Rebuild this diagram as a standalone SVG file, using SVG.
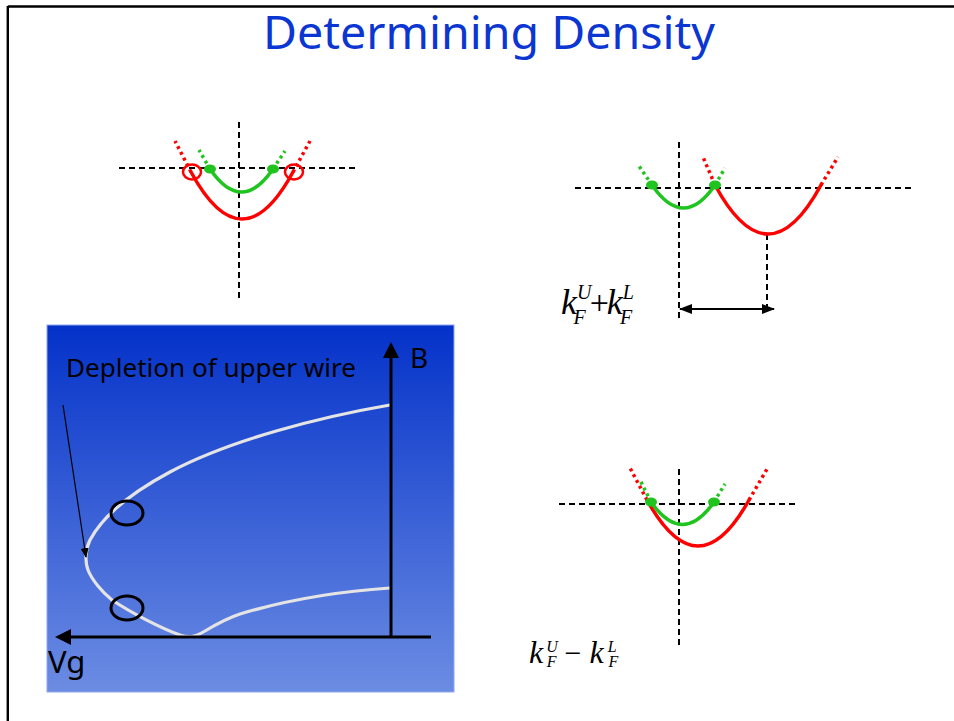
<svg xmlns="http://www.w3.org/2000/svg" width="954" height="721" viewBox="0 0 954 721">
<defs>
<linearGradient id="panelGrad" x1="0" y1="0" x2="0" y2="1">
<stop offset="0" stop-color="#0432c9"/>
<stop offset="1" stop-color="#6c8ce3"/>
</linearGradient>
<marker id="thinHead" markerWidth="10" markerHeight="8" refX="9" refY="4" orient="auto" markerUnits="userSpaceOnUse">
<path d="M0,0 L10,4 L0,8 Z" fill="#000"/>
</marker>
<marker id="dblEnd" markerWidth="13" markerHeight="10" refX="12" refY="5" orient="auto" markerUnits="userSpaceOnUse">
<path d="M0,0 L13,5 L0,10 Z" fill="#000"/>
</marker>
<marker id="dblStart" markerWidth="13" markerHeight="10" refX="1" refY="5" orient="auto" markerUnits="userSpaceOnUse">
<path d="M13,0 L0,5 L13,10 Z" fill="#000"/>
</marker>
</defs>
<style>
.frame{stroke:#000;stroke-width:2.4;fill:none}
.title{font-family:"Noto Sans","DejaVu Sans",sans-serif;font-size:46px;fill:#0b36d1}
.dash{stroke:#000;stroke-width:2;stroke-dasharray:6 4;fill:none}
.red{stroke:#ff0000;stroke-width:3.5;fill:none;stroke-linecap:round}
.redDot{stroke:#ff0000;stroke-width:3.5;stroke-dasharray:3 3.5;fill:none}
.grn{stroke:#1fc41f;stroke-width:3.5;fill:none;stroke-linecap:round}
.grnDot{stroke:#1fc41f;stroke-width:3.5;stroke-dasharray:3 3.5;fill:none}
.gdot{fill:#1fc41f}
.rcirc{stroke:#ff0000;stroke-width:2.5;fill:none}
.math{font-family:"Liberation Serif","Times New Roman",serif;font-style:italic;fill:#000}
.op{font-style:normal}
.lbl{font-family:"Noto Sans","DejaVu Sans",sans-serif;fill:#000}
.axis{stroke:#000;stroke-width:3;fill:none}
.curve{stroke:#e4e4e4;stroke-width:3.2;fill:none;stroke-linecap:round}
.ring{stroke:#000;stroke-width:3;fill:none}
</style>

<g id="frame">
<line class="frame" x1="7.8" y1="6.5" x2="954" y2="6.5"/>
<line class="frame" x1="7.8" y1="6" x2="7.8" y2="721"/>
</g>

<g id="title">
<text class="title" x="263" y="49" textLength="452" lengthAdjust="spacingAndGlyphs">Determining Density</text>
</g>

<g id="plot-top-left">
<line class="dash" x1="119" y1="168" x2="356" y2="168"/>
<line class="dash" x1="239" y1="122" x2="239" y2="300"/>
<path class="redDot" d="M191,172 L175,141"/>
<path class="redDot" d="M293,172 L310,141"/>
<path class="red" d="M191,172 Q242,266 293,172"/>
<path class="grnDot" d="M210,169 L199,150"/>
<path class="grnDot" d="M273,169 L285,151"/>
<path class="grn" d="M210,169 Q241.5,215 273,169"/>
<ellipse class="gdot" cx="210" cy="169" rx="6" ry="4.5"/>
<ellipse class="gdot" cx="273" cy="169" rx="6" ry="4.5"/>
<ellipse class="rcirc" cx="192" cy="172" rx="9" ry="7.5"/>
<ellipse class="rcirc" cx="294" cy="172" rx="9" ry="7.5"/>
</g>

<g id="plot-top-right">
<line class="dash" x1="575" y1="188" x2="913" y2="188"/>
<line class="dash" x1="679" y1="142" x2="679" y2="318"/>
<line class="dash" x1="767" y1="234" x2="767" y2="309"/>
<path class="redDot" d="M715,185 L703,157"/>
<path class="redDot" d="M821,185 L838,157"/>
<path class="red" d="M715,185 Q768,283 821,185"/>
<path class="grnDot" d="M652,185 L639,166"/>
<path class="grnDot" d="M715,185 L725,168"/>
<path class="grn" d="M652,185 Q683.5,231 715,185"/>
<ellipse class="gdot" cx="652" cy="185" rx="6" ry="4.5"/>
<ellipse class="gdot" cx="715" cy="185" rx="6" ry="4.5"/>
</g>

<g id="label-sum">
<text class="math" x="561" y="314" font-size="36">k<tspan font-size="20" dx="0" dy="-15">U</tspan><tspan font-size="20" dx="-18" dy="25">F</tspan><tspan class="op" font-size="34" dx="4" dy="-10">+</tspan><tspan dx="-2">k</tspan><tspan font-size="20" dy="-15">L</tspan><tspan font-size="20" dx="-14" dy="25">F</tspan></text>
</g>

<g id="plot-bottom-right">
<line class="dash" x1="559" y1="504" x2="795" y2="504"/>
<line class="dash" x1="679" y1="469" x2="679" y2="647"/>
<path class="redDot" d="M647,500 L630,468"/>
<path class="redDot" d="M749,500 L767,469"/>
<path class="red" d="M647,500 Q698,592 749,500"/>
<path class="grnDot" d="M651,502 L640,480"/>
<path class="grnDot" d="M714,502 L725,484"/>
<path class="grn" d="M651,502 Q682.5,547 714,502"/>
<ellipse class="gdot" cx="651" cy="502" rx="6" ry="4.5"/>
<ellipse class="gdot" cx="714" cy="502" rx="6" ry="4.5"/>
</g>

<g id="label-diff">
<text class="math" x="529" y="663" font-size="32">k<tspan font-size="16" dx="3" dy="-11">U</tspan><tspan font-size="16" dx="-11" dy="15">F</tspan><tspan class="op" font-size="30" dx="8" dy="-4">−</tspan><tspan dx="8">k</tspan><tspan font-size="16" dx="4" dy="-11">L</tspan><tspan font-size="16" dx="-8" dy="15">F</tspan></text>
</g>

<g id="panel">
<rect x="47" y="325" width="407" height="367" fill="url(#panelGrad)" stroke="#8ea8ee" stroke-width="1"/>
<text class="lbl" x="66" y="377" font-size="26" textLength="290" lengthAdjust="spacingAndGlyphs">Depletion of upper wire</text>
<path class="curve" d="M390,405 C320,417 230,440 170,472 C140,488 105,512 90,540 C85,550 85,562 88,570 C92,580 102,592 112,600 C130,612 160,628 180,635 C190,638 195,637 205,631 C215,625 225,619 240,614 C280,602 330,592 390,588"/>
<ellipse class="ring" cx="127" cy="513" rx="16" ry="12"/>
<ellipse class="ring" cx="127" cy="608" rx="16" ry="12"/>
<line class="axis" x1="391" y1="637" x2="391" y2="356"/>
<polygon points="391,342 383,358 399,358" fill="#000"/>
<line class="axis" x1="431" y1="637" x2="69" y2="637"/>
<polygon points="55,637 71,629 71,645" fill="#000"/>
<text class="lbl" x="410" y="368" font-size="28">B</text>
<text class="lbl" x="48" y="673" font-size="31">Vg</text>
</g>

<g id="connectors">
<line x1="63" y1="405" x2="86" y2="557" stroke="#000" stroke-width="1.2" marker-end="url(#thinHead)"/>
<line x1="680" y1="309" x2="774" y2="309" stroke="#000" stroke-width="2" marker-start="url(#dblStart)" marker-end="url(#dblEnd)"/>
</g>
</svg>
